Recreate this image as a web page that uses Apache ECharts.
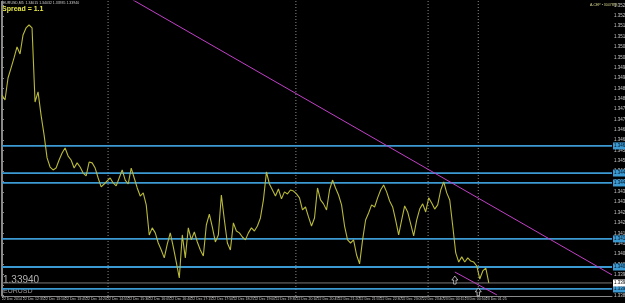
<!DOCTYPE html>
<html><head><meta charset="utf-8">
<script src="https://cdn.jsdelivr.net/npm/echarts@6/dist/echarts.min.js"></script>
<style>html,body{margin:0;padding:0;background:#000;}#c{width:625px;height:303px;}</style>
</head><body><div id="c"></div>
<script>
// EURUSD close prices (one value per bar index)
const prices = [
1.34848,1.34824,1.34930,1.34978,1.35027,1.35080,1.35046,1.35138,1.35172,1.35186,
1.35172,1.34814,1.34863,1.34751,1.34655,1.34544,1.34500,1.34486,1.34495,1.34534,
1.34568,1.34592,1.34553,1.34534,1.34495,1.34520,1.34500,1.34471,1.34457,1.34524,
1.34520,1.34495,1.34447,1.34404,1.34418,1.34433,1.34447,1.34423,1.34409,1.34447,
1.34486,1.34437,1.34418,1.34495,1.34447,1.34399,1.34360,1.34375,1.34317,1.34172,
1.34206,1.34182,1.34133,1.34099,1.34061,1.34128,1.34182,1.34114,1.34041,1.33964,
1.34172,1.34061,1.34206,1.34148,1.34186,1.34138,1.34099,1.34070,1.34220,1.34273,
1.34210,1.34138,1.34172,1.34365,1.34244,1.34133,1.34099,1.34230,1.34191,1.34182,
1.34162,1.34148,1.34182,1.34206,1.34191,1.34215,1.34254,1.34341,1.34476,1.34418,
1.34389,1.34360,1.34394,1.34346,1.34380,1.34370,1.34389,1.34384,1.34370,1.34351,
1.34293,1.34307,1.34259,1.34215,1.34254,1.34399,1.34341,1.34322,1.34293,1.34389,
1.34437,1.34399,1.34365,1.34317,1.34215,1.34148,1.34133,1.34148,1.34075,1.34032,
1.34148,1.34244,1.34278,1.34317,1.34307,1.34351,1.34389,1.34413,1.34380,1.34336,
1.34307,1.34244,1.34172,1.34244,1.34312,1.34283,1.34225,1.34167,1.34244,1.34297,
1.34322,1.34283,1.34351,1.34326,1.34297,1.34317,1.34389,1.34428,1.34375,1.34341,
1.34215,1.34085,1.34041,1.34066,1.34041,1.34061,1.34046,1.34041,1.34022,1.33959,
1.33998,1.34012,1.33940
];
// bottom time labels (one every 7 bars)
const timeLabels = [
"22 Dec 2014","22 Dec 12:35","22 Dec 13:10","22 Dec 13:45","22 Dec 14:20","22 Dec 14:55",
"22 Dec 15:30","22 Dec 16:05","22 Dec 16:40","22 Dec 17:15","22 Dec 17:50","22 Dec 18:25",
"22 Dec 19:00","22 Dec 19:35","22 Dec 20:10","22 Dec 20:45","22 Dec 21:20","22 Dec 21:55",
"22 Dec 22:30","22 Dec 23:05","22 Dec 23:40","23 Dec 00:15","23 Dec 00:50","23 Dec 01:25"
];
const barsPerLabel = 7;
const totalBars = 203;
// right price scale tick labels
const priceTicks = [
1.3388,1.3393,1.3398,1.3403,1.3408,1.3413,1.3418,1.3423,1.3428,1.3433,1.3438,1.3443,
1.3448,1.3453,1.3458,1.3463,1.3468,1.3473,1.3478,1.3483,1.3488,1.3493,1.3498,1.3503,
1.3508,1.3513,1.3518,1.3523,1.3528
];
const priceMin = 1.33877, priceMax = 1.35302;
// horizontal support/resistance levels
const levels = [1.34602, 1.34471, 1.34423, 1.34153, 1.34017, 1.33911];
const bid = 1.33940;
// period separators (bar index)
const separators = [35.3, 97.8, 141.8, 158.5];
// trend lines [barIndex, price]
const trendUpper = [[43.6, 1.35307], [203, 1.33979]];
const trendLower = [[150.7, 1.33993], [164.7, 1.33882]];
// arrow markers
const arrows = [[150.7, 1.33954], [158.5, 1.33897]];

const chart = echarts.init(document.getElementById('c'), null, {renderer: 'canvas'});
const timeIdx = timeLabels.map((_, k) => k * barsPerLabel);
const magenta = '#c23fc8';
const cyan = '#3c9ad2';

function hLine(v, color, width, labelBg, labelColor) {
  return {
    type: 'line', showSymbol: false, silent: true, z: 2,
    data: [[0, v], [totalBars, v]],
    lineStyle: {color: color, width: width},
    endLabel: {show: true, distance: 1, formatter: () => v.toFixed(5),
      backgroundColor: labelBg, color: labelColor, fontSize: 4.5, padding: [1, 1], fontFamily: 'Arial'}
  };
}
function vLine(v) {
  return {
    type: 'line', showSymbol: false, silent: true, z: 1,
    data: [[v, priceMin], [v, priceMax]],
    lineStyle: {color: '#8a8a8a', width: 1, type: [1, 2]}
  };
}

const option = {
  backgroundColor: '#000',
  animation: false,
  grid: {left: 2, right: 13, top: 1, bottom: 7, show: false, containLabel: false, outerBoundsMode: 'none'},
  xAxis: {
    type: 'value', min: 0, max: totalBars,
    axisLine: {show: true, lineStyle: {color: '#8a8a8a', width: 1}},
    axisTick: {show: true, length: 2, lineStyle: {color: '#8a8a8a'}, customValues: timeIdx},
    axisLabel: {
      customValues: timeIdx, color: '#c8c8c8', fontSize: 3.5, margin: 1, align: 'left',
      fontFamily: 'Arial', hideOverlap: false,
      formatter: v => timeLabels[Math.round(v / barsPerLabel)] || ''
    },
    splitLine: {show: false}
  },
  yAxis: {
    type: 'value', position: 'right', min: priceMin, max: priceMax,
    axisLine: {show: true, lineStyle: {color: '#8a8a8a', width: 1}},
    axisTick: {show: true, length: 2, lineStyle: {color: '#8a8a8a'}, customValues: priceTicks},
    axisLabel: {customValues: priceTicks, color: '#c8c8c8', fontSize: 4.5, margin: 2,
      fontFamily: 'Arial', hideOverlap: false, formatter: v => v.toFixed(5)},
    splitLine: {show: false}
  },
  series: [
    ...separators.map(vLine),
    ...levels.map(v => hLine(v, cyan, 1.8, cyan, '#001020')),
    hLine(bid, '#7a7a7a', 1, '#ffffff', '#000000'),
    {
      type: 'line', name: 'EURUSD', showSymbol: false, z: 3,
      data: prices.map((p, i) => [i, p]),
      lineStyle: {color: '#b9b93a', width: 1.1}
    },
    {type: 'line', data: trendUpper, showSymbol: false, lineStyle: {color: magenta, width: 1}, z: 4, clip: true},
    {type: 'line', data: trendLower, showSymbol: false, lineStyle: {color: magenta, width: 1}, z: 4, clip: true},
    {type: 'scatter', data: arrows, z: 5,
      symbol: 'path://M5,0 L10,5 L7,5 L7,10 L3,10 L3,5 L0,5 Z', symbolSize: [6, 8],
      itemStyle: {color: '#000', borderColor: '#ffffff', borderWidth: 0.8}}
  ],
  graphic: [
    {type: 'rect', left: 1, top: 1, shape: {width: 1, height: 295}, style: {fill: '#8a8a8a'}},
    {type: 'text', left: 3, top: 1, style: {text: 'EURUSD,M5  1.34015 1.34032 1.33935 1.33940', fill: '#d0d0d0', font: '3.5px Arial'}},
    {type: 'text', left: 2, top: 6, style: {text: 'Spread = 1.1', fill: '#e6e64a', font: 'bold 7px Arial'}},
    {type: 'text', left: 590, top: 3, style: {text: 'A-CEP • 3047893', fill: '#d8d890', font: '3.5px Arial'}},
    {type: 'text', left: 3, top: 275, style: {text: '1.33940', fill: '#b4b4b4', font: '10px Arial'}},
    {type: 'text', left: 3, top: 288, style: {text: 'EURUSD', fill: '#9a9a9a', font: '7px Arial'}}
  ]
};
chart.setOption(option);
</script></body></html>
